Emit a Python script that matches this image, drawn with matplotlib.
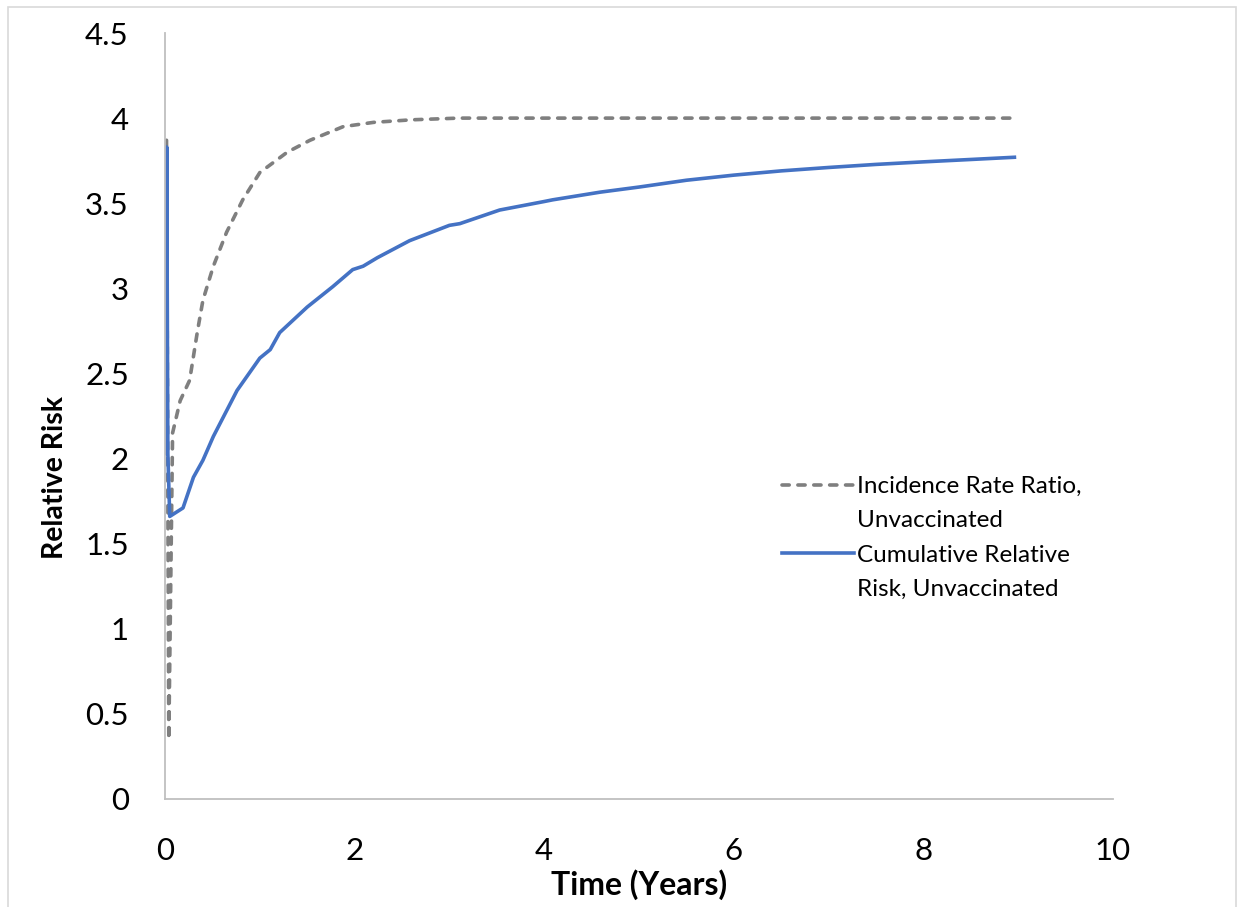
import matplotlib
matplotlib.use("Agg")
import matplotlib.pyplot as plt
from matplotlib.patches import Rectangle
from matplotlib.lines import Line2D

plt.rcParams['font.family'] = ['Lato', 'DejaVu Sans']

# Incidence Rate Ratio, Unvaccinated (grey dashed)
irr_x = [0.016, 0.04, 0.08, 0.16, 0.26, 0.34, 0.40, 0.51, 0.65, 0.82, 1.0,
         1.29, 1.53, 1.88, 2.2, 2.6, 3.1, 4.0, 5.0, 6.0, 7.0, 8.0, 8.96]
irr_y = [3.87, 0.35, 2.15, 2.34, 2.46, 2.74, 2.93, 3.13, 3.33, 3.52, 3.68,
         3.80, 3.87, 3.95, 3.975, 3.99, 4.0, 4.0, 4.0, 4.0, 4.0, 4.0, 4.0]

# Cumulative Relative Risk, Unvaccinated (blue solid)
crr_x = [0.012, 0.018, 0.03, 0.05, 0.19, 0.30, 0.40, 0.51, 0.76, 1.0, 1.11,
         1.21, 1.50, 1.77, 1.98, 2.09, 2.24, 2.58, 3.0, 3.11, 3.53, 4.0, 4.09,
         4.59, 5.0, 5.5, 6.0, 6.5, 7.0, 7.5, 8.0, 8.5, 8.96]
crr_y = [2.03, 3.83, 2.03, 1.66, 1.71, 1.89, 1.99, 2.13, 2.40, 2.59, 2.64,
         2.74, 2.89, 3.01, 3.11, 3.13, 3.18, 3.28, 3.37, 3.38, 3.46, 3.51, 3.52,
         3.565, 3.595, 3.635, 3.665, 3.69, 3.71, 3.728, 3.743, 3.757, 3.77]

series_labels = [['Incidence Rate Ratio,', 'Unvaccinated'],
                 ['Cumulative Relative', 'Risk, Unvaccinated']]

x_ticks = [0, 2, 4, 6, 8, 10]
y_ticks = [0, 0.5, 1, 1.5, 2, 2.5, 3, 3.5, 4, 4.5]
y_tick_labels = ['0', '0.5', '1', '1.5', '2', '2.5', '3', '3.5', '4', '4.5']

GREY = '#7f7f7f'
BLUE = '#4472C4'
W, H = 1244, 907
fig = plt.figure(figsize=(W / 100, H / 100), dpi=100)
ax = fig.add_axes([165 / W, 1 - 799 / H, (1113 - 165) / W, (799 - 33) / H])

# outer chart border
fig.patches.append(Rectangle((8 / W, -0.02), (1236 - 8) / W, 1 - 7 / H + 0.02,
                             transform=fig.transFigure, fill=False,
                             edgecolor='#d9d9d9', linewidth=1.2))

dash = (0, (2.0, 2.4))
ax.plot(irr_x, irr_y, color=GREY, linewidth=2.6, linestyle=dash,
        dash_capstyle='round')
ax.plot(crr_x, crr_y, color=BLUE, linewidth=2.6, solid_joinstyle='round')

ax.set_xlim(0, 10)
ax.set_ylim(0, 4.5)
ax.set_xticks(x_ticks)
ax.set_xticklabels([str(t) for t in x_ticks])
ax.set_yticks(y_ticks)
ax.set_yticklabels(y_tick_labels)
ax.tick_params(axis='both', length=0, labelsize=22.5, colors='black')
ax.tick_params(axis='y', pad=26)
ax.tick_params(axis='x', pad=27)

for s in ['top', 'right']:
    ax.spines[s].set_visible(False)
for s in ['left', 'bottom']:
    ax.spines[s].set_color('#bfbfbf')
    ax.spines[s].set_linewidth(1.3)

ax.set_xlabel('Time (Years)', fontsize=23, fontweight='bold')
ax.set_ylabel('Relative Risk', fontsize=20.5, fontweight='bold')
ax.xaxis.set_label_coords(0.5, (799 - 869) / 766)
ax.yaxis.set_label_coords((68 - 165) / 948, 0.42)

blank = Line2D([], [], color='none')
h1 = Line2D([], [], color=GREY, linewidth=2.6, linestyle=dash, dash_capstyle='round')
h2 = Line2D([], [], color=BLUE, linewidth=2.6)
handles = [h1, blank, h2, blank]
labels = [series_labels[0][0], series_labels[0][1],
          series_labels[1][0], series_labels[1][1]]
ax.legend(handles, labels, loc='upper left',
          bbox_to_anchor=(782 / W, 1 - 476 / H),
          bbox_transform=fig.transFigure, frameon=False, fontsize=17.5,
          handlelength=2.95, handletextpad=0.15, borderpad=0,
          borderaxespad=0, labelspacing=0.55)

fig.savefig('out.png', dpi=100)
